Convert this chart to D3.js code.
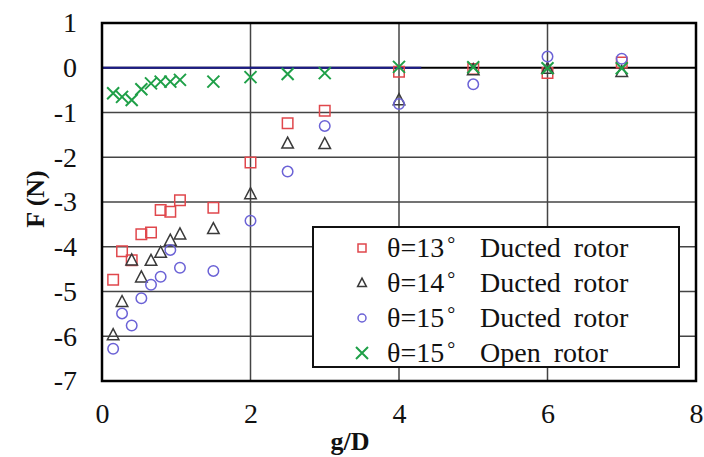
<!DOCTYPE html>
<html><head><meta charset="utf-8">
<script src="https://cdn.jsdelivr.net/npm/d3@7"></script>
<style>body{margin:0;background:#fff}svg{display:block}</style>
</head><body><svg id="c" width="704" height="457"></svg>
<script>
// ---- data ----
const xTicks = [0, 2, 4, 6, 8];
const yTicks = [1, 0, -1, -2, -3, -4, -5, -6, -7];
const gd = [0.15, 0.27, 0.4, 0.53, 0.66, 0.79, 0.92, 1.05, 1.5, 2, 2.5, 3, 4, 5, 6, 7];
const ducted13 = [-4.74, -4.10, -4.30, -3.72, -3.68, -3.18, -3.22, -2.96, -3.13, -2.12, -1.24, -0.96, -0.09, -0.03, -0.12, 0.12];
const ducted14 = [-5.97, -5.23, -4.30, -4.68, -4.31, -4.13, -3.86, -3.72, -3.60, -2.82, -1.69, -1.70, -0.72, -0.05, -0.02, -0.09];
const ducted15 = [-6.28, -5.49, -5.76, -5.15, -4.85, -4.67, -4.07, -4.47, -4.54, -3.42, -2.32, -1.30, -0.81, -0.37, 0.25, 0.20];
const open15   = [-0.57, -0.65, -0.72, -0.48, -0.35, -0.31, -0.31, -0.27, -0.31, -0.21, -0.14, -0.12, 0.02, 0.01, -0.01, -0.01];
const refLine = [[0, 0], [4.3, 0]];
const legendAngles = ["θ=13", "θ=14", "θ=15", "θ=15"];
const legendNames = ["Ducted rotor", "Ducted rotor", "Ducted rotor", "Open rotor"];

// ---- layout ----
const svg = d3.select("#c");
const L = 102, R = 696, T = 23, B = 381;
const x = d3.scaleLinear().domain([0, 8]).range([L, R]);
const y = d3.scaleLinear().domain([-7, 1]).range([B, T]);
const font = "'Liberation Serif','Times New Roman',serif";

const series = [
  {vals: ducted13, shape: "square", color: "#e0474c"},
  {vals: ducted14, shape: "triangle", color: "#3a3a3a"},
  {vals: ducted15, shape: "circle", color: "#6b62d6"},
  {vals: open15, shape: "x", color: "#1fa048"}
];

// grid
const g = svg.append("g");
g.selectAll("line.h").data(yTicks.filter(v => v > -7 && v < 1 && v !== 0)).join("line")
  .attr("x1", L).attr("x2", R).attr("y1", d => y(d)).attr("y2", d => y(d))
  .attr("stroke", "#444").attr("stroke-width", 1.5);
g.selectAll("line.v").data(xTicks.filter(v => v > 0 && v < 8)).join("line")
  .attr("x1", d => x(d)).attr("x2", d => x(d)).attr("y1", T).attr("y2", B)
  .attr("stroke", "#444").attr("stroke-width", 1.5);
g.append("line").attr("x1", L).attr("x2", R).attr("y1", y(0)).attr("y2", y(0))
  .attr("stroke", "#000").attr("stroke-width", 2.2);
svg.append("path").datum(refLine)
  .attr("d", d3.line().x(d => x(d[0])).y(d => y(d[1])))
  .attr("stroke", "#1c1c8a").attr("stroke-width", 2.2).attr("fill", "none");

// axes (ticks hidden, labels only)
const yAxis = d3.axisLeft(y).tickValues(yTicks).tickSize(0).tickPadding(25).tickFormat(d3.format("d"));
const xAxis = d3.axisBottom(x).tickValues(xTicks).tickSize(0).tickPadding(22).tickFormat(d3.format("d"));
const ya = svg.append("g").attr("transform", `translate(${L},0)`).call(yAxis);
const xa = svg.append("g").attr("transform", `translate(0,${B})`).call(xAxis);
[ya, xa].forEach(a => {
  a.select(".domain").remove();
  a.selectAll("text").attr("font-family", font).attr("font-size", 28).attr("fill", "#111");
});
ya.selectAll("text").text(d => d < 0 ? "-" + Math.abs(d) : d);

function drawMarker(sel, shape, color, s) {
  sel.attr("fill", "none").attr("stroke", color).attr("stroke-width", 1.5);
  if (shape === "square") sel.attr("d", `M${-s/2},${-s/2}h${s}v${s}h${-s}Z`);
  else if (shape === "triangle") sel.attr("d", `M0,${-s*0.6}L${s*0.55},${s*0.45}L${-s*0.55},${s*0.45}Z`);
  else if (shape === "circle") sel.attr("d", d3.symbol(d3.symbolCircle, Math.PI * (s/2) * (s/2))());
  else sel.attr("d", `M${-s/2},${-s/2}L${s/2},${s/2}M${-s/2},${s/2}L${s/2},${-s/2}`).attr("stroke-width", 2);
}

series.forEach(sr => {
  svg.append("g").selectAll("path").data(sr.vals).join("path")
    .attr("transform", (d, i) => `translate(${x(gd[i])},${y(d)})`)
    .each(function() { drawMarker(d3.select(this), sr.shape, sr.color, sr.shape === "x" ? 12 : 10.5); });
});

// frame
svg.append("rect").attr("x", L).attr("y", T).attr("width", R - L).attr("height", B - T)
  .attr("fill", "none").attr("stroke", "#000").attr("stroke-width", 2.5);

// legend
const lg = svg.append("g");
lg.append("rect").attr("x", 313).attr("y", 227).attr("width", 366).attr("height", 140)
  .attr("fill", "#fff").attr("stroke", "#111").attr("stroke-width", 2);
series.forEach((sr, i) => {
  const cy = 248 + i * 35;
  lg.append("path").attr("transform", `translate(362,${cy})`)
    .call(s => drawMarker(s, sr.shape, sr.color, sr.shape === "x" ? 12 : 8));
  const t = lg.append("text").attr("x", 387).attr("y", cy + 9).attr("font-family", font)
    .attr("font-size", 28).attr("fill", "#111");
  t.append("tspan").text(legendAngles[i]);
  t.append("tspan").attr("dx", 3).attr("font-size", 20).attr("dy", -6).text("°");
  lg.append("text").attr("x", 480).attr("y", cy + 9).attr("font-family", font)
    .attr("font-size", 28).attr("word-spacing", 6).attr("fill", "#111").text(legendNames[i]);
});

// axis titles
svg.append("text").attr("transform", `translate(44,${(T + B) / 2 - 3}) rotate(-90)`)
  .attr("text-anchor", "middle").attr("font-family", font).attr("font-weight", "bold")
  .attr("font-size", 26).attr("fill", "#111").text("F (N)");
svg.append("text").attr("x", 350).attr("y", 450).attr("text-anchor", "middle")
  .attr("font-family", font).attr("font-weight", "bold").attr("font-size", 26)
  .attr("fill", "#111").text("g/D");
</script></body></html>
